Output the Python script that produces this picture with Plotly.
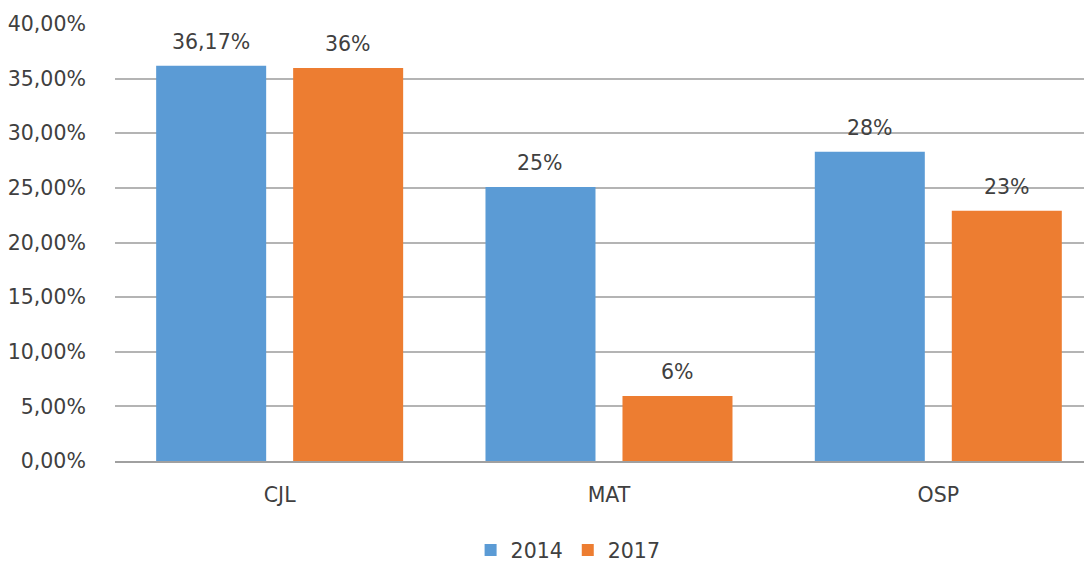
import plotly.graph_objects as go

categories = ["CJL", "MAT", "OSP"]
series_names = ["2014", "2017"]
values_2014 = [36.17, 25.08, 28.3]
values_2017 = [35.97, 5.95, 22.9]
labels_2014 = ["36,17%", "25%", "28%"]
labels_2017 = ["36%", "6%", "23%"]
colors = ["#5B9BD5", "#ED7D31"]

FONT = "DejaVu Sans"
TXT = "#404040"
FS = 20.5

fig = go.Figure()
for name, vals, col in zip(series_names, [values_2014, values_2017], colors):
    fig.add_trace(go.Bar(
        x=categories, y=vals, name=name, marker=dict(color=col, line=dict(width=0)),
    ))

# data labels above bars
for vals, labs, shift in [(values_2014, labels_2014, -68.5), (values_2017, labels_2017, 68.5)]:
    for c, v, t in zip(categories, vals, labs):
        fig.add_annotation(x=c, y=v, text=t, showarrow=False, xref="x", yref="y",
                           xanchor="center", yanchor="bottom", xshift=shift, yshift=10,
                           font=dict(family=FONT, size=FS, color=TXT))

# the page body adds an 8px offset; margins compensate for it
fig.update_layout(
    width=1092, height=561,
    margin=dict(l=107, r=0, t=16, b=108, autoexpand=False),
    paper_bgcolor="white", plot_bgcolor="white",
    barmode="group", bargap=0.168, bargroupgap=0.197,
    separators=",.",
    font=dict(family=FONT, size=FS, color=TXT),
    showlegend=True,
    legend=dict(orientation="h", x=0.46, xanchor="center", y=-0.204, yanchor="middle",
                font=dict(family=FONT, size=FS, color=TXT), itemwidth=30,
                traceorder="normal"),
)
fig.update_xaxes(
    type="category", range=[-0.5, 2.491], automargin=False,
    showline=True, linecolor="#A0A0A0", linewidth=1.5,
    ticks="outside", ticklen=15, tickcolor="rgba(0,0,0,0)",
    tickfont=dict(family=FONT, size=FS, color=TXT),
    showgrid=False,
)
fig.update_yaxes(
    range=[0, 40], dtick=5, tickformat=".2f", ticksuffix="%", automargin=False,
    showgrid=True, gridcolor="#B4B4B4", gridwidth=1.5,
    zeroline=False, showline=False,
    ticks="outside", ticklen=24, tickcolor="rgba(0,0,0,0)",
    tickfont=dict(family=FONT, size=FS, color=TXT),
)

fig.write_html("out.html")
